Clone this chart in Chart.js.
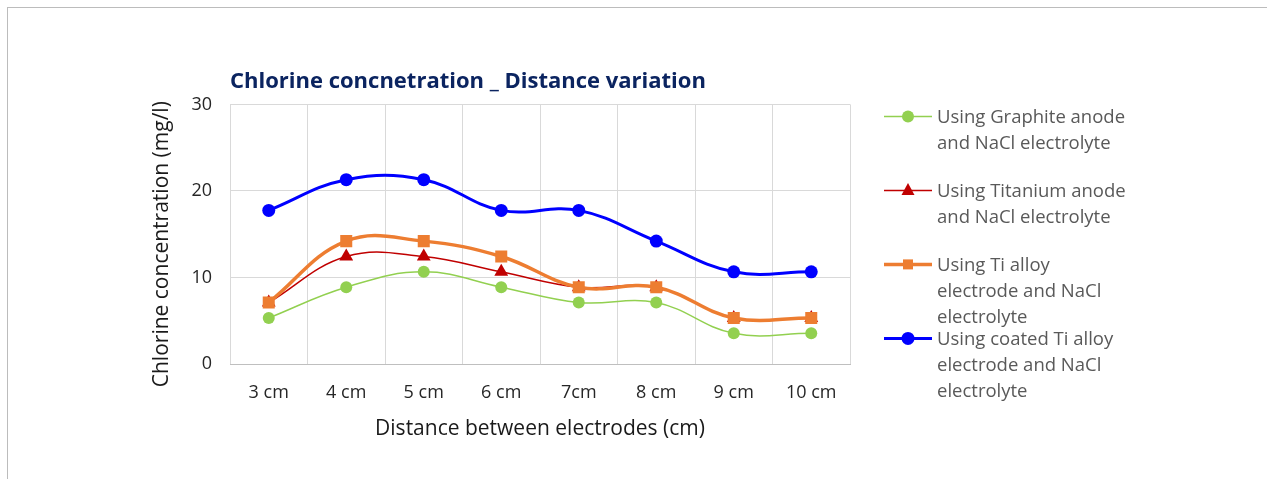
<!DOCTYPE html>
<html>
<head>
<meta charset="utf-8">
<script src="https://cdn.jsdelivr.net/npm/chart.js@4.4.1/dist/chart.umd.min.js"></script>
<style>
  html, body { margin: 0; padding: 0; background: #ffffff; }
  #wrap { position: relative; width: 1267px; height: 479px; overflow: hidden; }
  #frame { position: absolute; left: 7px; top: 7px; width: 1300px; height: 520px;
           border-top: 1px solid #bcbcbc; border-left: 1px solid #bcbcbc; }
  #c { position: absolute; left: 0; top: 0; }
</style>
</head>
<body>
<div id="wrap">
  <div id="frame"></div>
  <canvas id="c" width="1267" height="479"></canvas>
</div>
<script>
// Electrode spacing categories
const distances = ['3 cm', '4 cm', '5 cm', '6 cm', '7cm', '8 cm', '9 cm', '10 cm'];

// Chlorine concentration (mg/l) for each electrode setup
const graphiteAnode   = [5.325, 8.875, 10.65, 8.875, 7.1, 7.1, 3.55, 3.55];
const titaniumAnode   = [7.1, 12.425, 12.425, 10.65, 8.875, 8.875, 5.325, 5.325];
const tiAlloy         = [7.1, 14.2, 14.2, 12.425, 8.875, 8.875, 5.325, 5.325];
const coatedTiAlloy   = [17.75, 21.3, 21.3, 17.75, 17.75, 14.2, 10.65, 10.65];

// Legend wording, split into the lines shown beside the plot
const graphiteLabel = ['Using Graphite anode', 'and NaCl electrolyte'];
const titaniumLabel = ['Using Titanium anode', 'and NaCl electrolyte'];
const tiAlloyLabel  = ['Using Ti alloy', 'electrode and NaCl', 'electrolyte'];
const coatedLabel   = ['Using coated Ti alloy', 'electrode and NaCl', 'electrolyte'];

// Axis titles
const xAxisTitle = 'Distance between electrodes (cm)';
const yAxisTitle = 'Chlorine concentration (mg/l)';

// Value axis
const yMin = 0, yMax = 30, yStep = 10;

const FONT = '"Open Sans", "Noto Sans", "Liberation Sans", sans-serif';
Chart.defaults.font.family = FONT;

function drawMarker(ctx, style, x, y, r, color) {
  ctx.save();
  ctx.fillStyle = color;
  ctx.beginPath();
  if (style === 'circle') {
    ctx.arc(x, y, r, 0, Math.PI * 2);
  } else if (style === 'triangle') {
    ctx.moveTo(x, y - r);
    ctx.lineTo(x + r * 0.866, y + r * 0.6);
    ctx.lineTo(x - r * 0.866, y + r * 0.6);
    ctx.closePath();
  } else {
    ctx.rect(x - r, y - r, 2 * r, 2 * r);
  }
  ctx.fill();
  ctx.restore();
}

// Rotated value-axis title, placed a little below the plot's middle
const valueAxisTitle = {
  id: 'valueAxisTitle',
  afterDraw(chart) {
    const { ctx, chartArea } = chart;
    ctx.save();
    ctx.translate(chartArea.left - 68, (chartArea.top + chartArea.bottom) / 2 + 10);
    ctx.rotate(-Math.PI / 2);
    ctx.fillStyle = '#1a1a1a';
    ctx.font = '21px ' + FONT;
    ctx.textAlign = 'center';
    ctx.textBaseline = 'middle';
    ctx.fillText(yAxisTitle, 0, 0);
    ctx.restore();
  }
};

// Legend drawn at the right of the plot, with multi-line entries
const sideLegend = {
  id: 'sideLegend',
  afterDraw(chart) {
    const { ctx, chartArea } = chart;
    const x0 = chartArea.right + 34;
    const x1 = x0 + 48;
    const tx = x1 + 5;
    const lineH = 26;
    const pitch = 74;
    const markerSize = [6, 7.5, 5, 6.5];
    chart.data.datasets.forEach((ds, i) => {
      const y = chartArea.top + 12 + i * pitch;
      ctx.save();
      ctx.strokeStyle = ds.borderColor;
      ctx.lineWidth = ds.borderWidth;
      ctx.beginPath();
      ctx.moveTo(x0, y);
      ctx.lineTo(x1, y);
      ctx.stroke();
      ctx.restore();
      drawMarker(ctx, ds.pointStyle, (x0 + x1) / 2, y, markerSize[i], ds.pointBackgroundColor);
      ctx.save();
      ctx.fillStyle = '#595959';
      ctx.font = '18.5px ' + FONT;
      ctx.textBaseline = 'middle';
      ctx.textAlign = 'left';
      ds.legendLines.forEach((t, k) => ctx.fillText(t, tx, y + 1 + k * lineH));
      ctx.restore();
    });
  }
};

const ctx = document.getElementById('c').getContext('2d');
new Chart(ctx, {
  type: 'line',
  data: {
    labels: distances,
    datasets: [
      {
        label: graphiteLabel.join(' '), legendLines: graphiteLabel, data: graphiteAnode,
        borderColor: '#92d050', backgroundColor: '#92d050', pointBackgroundColor: '#92d050',
        borderWidth: 1.5, pointStyle: 'circle', pointRadius: 6, pointBorderWidth: 0,
        tension: 0.4, order: 3
      },
      {
        label: titaniumLabel.join(' '), legendLines: titaniumLabel, data: titaniumAnode,
        borderColor: '#c00000', backgroundColor: '#c00000', pointBackgroundColor: '#c00000',
        borderWidth: 1.5, pointStyle: 'triangle', pointRadius: 8, pointBorderWidth: 0,
        tension: 0.4, order: 2
      },
      {
        label: tiAlloyLabel.join(' '), legendLines: tiAlloyLabel, data: tiAlloy,
        borderColor: '#ed7d31', backgroundColor: '#ed7d31', pointBackgroundColor: '#ed7d31',
        borderWidth: 3.5, pointStyle: 'rect', pointRadius: 8.5, pointBorderWidth: 0,
        tension: 0.4, order: 1
      },
      {
        label: coatedLabel.join(' '), legendLines: coatedLabel, data: coatedTiAlloy,
        borderColor: '#0000ff', backgroundColor: '#0000ff', pointBackgroundColor: '#0000ff',
        borderWidth: 3, pointStyle: 'circle', pointRadius: 6.5, pointBorderWidth: 0,
        tension: 0.4, order: 0
      }
    ]
  },
  options: {
    responsive: false,
    animation: false,
    events: [],
    layout: { padding: { left: 140, right: 417, top: 50, bottom: 30 } },
    plugins: {
      legend: { display: false },
      tooltip: { enabled: false },
      title: {
        display: true,
        text: 'Chlorine concnetration _ Distance variation',
        align: 'start',
        fullSize: false,
        color: '#0b2460',
        font: { size: 22, weight: 'bold', family: FONT },
        padding: { top: 19, bottom: 9 }
      }
    },
    scales: {
      x: {
        offset: true,
        grid: { color: '#d9d9d9', lineWidth: 1, drawTicks: false, offset: true },
        border: { color: '#bfbfbf', width: 1 },
        ticks: { color: '#262626', font: { size: 18 }, padding: 18 },
        title: {
          display: true, text: xAxisTitle, color: '#1a1a1a',
          font: { size: 21 }, padding: { top: 0, bottom: 7 }
        },
        afterFit(scale) { scale.height = 85; }
      },
      y: {
        min: yMin, max: yMax,
        ticks: { stepSize: yStep, color: '#262626', font: { size: 18 }, padding: 18 },
        grid: { color: '#d9d9d9', lineWidth: 1, drawTicks: false },
        border: { display: false },
        title: { display: false },
        afterFit(scale) { scale.width = 90; }
      }
    }
  },
  plugins: [sideLegend, valueAxisTitle]
});
</script>
</body>
</html>
